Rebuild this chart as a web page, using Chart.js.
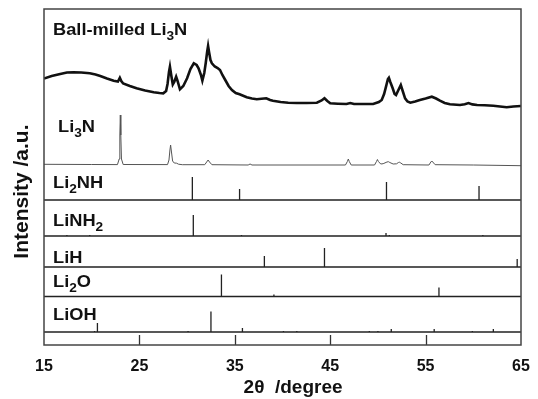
<!DOCTYPE html>
<html><head><meta charset="utf-8">
<script src="https://cdn.jsdelivr.net/npm/chart.js@4.4.1/dist/chart.umd.min.js"></script>
<style>html,body{margin:0;padding:0;background:#fff}#wrap{width:538px;height:399px;position:relative}</style>
</head><body><div id="wrap"><canvas id="c" width="538" height="399"></canvas></div>
<script>
// ---------- DATA ----------
const xTicks = [15, 25, 35, 45, 55, 65];

const ballTheta = [15.0,15.8,16.7,17.4,18.1,18.9,19.8,20.4,20.9,21.6,22.3,22.75,22.95,23.1,23.3,24.0,24.7,25.6,26.5,27.1,27.5,27.8,27.95,28.1,28.2,28.35,28.5,28.65,28.85,29.0,29.25,29.6,30.0,30.35,30.7,31.0,31.2,31.45,31.6,31.8,31.95,32.1,32.2,32.3,32.45,32.6,32.9,33.2,33.45,33.7,34.0,34.35,34.7,35.1,35.5,36.25,36.8,37.3,37.8,38.3,38.7,39.0,39.8,40.6,41.5,42.5,43.6,44.1,44.4,44.7,45.0,45.8,46.7,47.1,47.5,48.5,49.5,50.1,50.4,50.65,50.85,51.05,51.15,51.3,51.55,51.75,51.9,52.15,52.4,52.6,52.85,53.1,53.4,53.9,54.4,55.0,55.65,56.1,56.5,57.0,57.55,58.6,59.1,59.5,59.9,60.4,61.2,62.1,62.8,63.5,64.2,65.0];
const ballIntensity = [31.5,34,36,37.5,37.7,37.5,36.7,35.5,34,31.5,29.3,28.5,32.3,29,26.5,24,21.7,19.5,17.7,17,16.7,19,26,38,43.3,34,25.5,28,33.3,29,20.7,24,31.7,41,46.7,45,41.7,35,29.3,37,46.7,58,64,58,50,46.7,43.5,42,40,35,30,24,20,17,15.7,12.7,11.5,10.7,11.2,11.7,10,9.3,8,7.3,7,7,7.3,9.5,11.7,9,6.7,6.3,6,7,6,6,6,8,10,16,23.3,31,32.3,28,21.7,16,15,20,25,19,11.7,8.5,7.3,8.5,10,11.5,13.3,11.5,9.3,7,5.7,5,5.8,7,5.6,5,4.8,4.3,3.5,2.7,3.5,4];

const li3nTheta = [15,20,22.7,22.88,22.95,23.0,23.05,23.12,23.3,27.95,28.1,28.2,28.27,28.35,28.48,28.65,28.9,29.1,29.5,31.85,32.05,32.2,32.35,32.6,36.4,36.6,36.8,46.6,46.8,46.9,47.0,47.2,49.65,49.85,49.95,50.05,50.3,50.55,50.95,51.1,51.25,51.6,51.95,52.15,52.25,52.4,52.65,55.35,55.55,55.65,55.75,56.0,60,65];
const li3nIntensity = [0.7,0.5,0.4,6,30,50,30,6,0.5,0.4,5,15,20,14,4,2,1.8,0.8,0.3,0.3,3,5,3,0.3,0,1,0,0,3.5,6,3.5,0,0,3.5,5.5,3.5,1,1.3,3,3.3,2.5,1,1.2,2.5,2.8,2,0.3,0,3,4,3,0.3,0,-0.7];

const li2nhTheta = [30.55, 35.5, 50.9, 60.6];
const li2nhIntensity = [23, 11, 18, 14];
const linh2Theta = [17.4, 19.8, 30.65, 35.7, 50.85, 51.2, 61.0];
const linh2Intensity = [1, 1, 21, 1, 3, 1, 1];
const lihTheta = [38.1, 44.4, 64.6];
const lihIntensity = [11, 19, 8];
const li2oTheta = [33.6, 39.1, 56.4];
const li2oIntensity = [22, 2, 9];
const liohTheta = [20.3, 20.6, 30.1, 32.5, 35.8, 40.1, 41.5, 49.1, 50.0, 51.4, 55.9, 59.9, 62.1];
const liohIntensity = [1, 9, 1, 20.5, 4, 1, 1, 1, 1, 3, 3, 1, 3];

const panelLabels = ['Ball-milled Li_3N', 'Li_3N', 'Li_2NH', 'LiNH_2', 'LiH', 'Li_2O', 'LiOH'];

// ---------- LAYOUT (vertical stacking, in y-axis units) ----------
const Y_MAX = 336;
const panelOffset = [235, 180, 145, 109, 78, 48.5, 13];
const labelBaseline = [310, 213, 157, 119, 82, 58, 25];
const FONT = "'Liberation Sans', Arial, sans-serif";

function tracePoints(th, it, off) {
  return th.map((t, i) => ({ x: t, y: off + it[i] }));
}
function stickPoints(th, it, off) {
  const pts = [{ x: xTicks[0], y: off }];
  th.forEach((t, i) => { pts.push({ x: t, y: off }, { x: t, y: off + it[i] }, { x: t, y: off }); });
  pts.push({ x: xTicks[xTicks.length - 1], y: off });
  return pts;
}

const sticks = [
  [li2nhTheta, li2nhIntensity],
  [linh2Theta, linh2Intensity],
  [lihTheta, lihIntensity],
  [li2oTheta, li2oIntensity],
  [liohTheta, liohIntensity]
];

const datasets = [
  { data: tracePoints(ballTheta, ballIntensity, panelOffset[0]), borderColor: '#111', borderWidth: 2.6 },
  { data: tracePoints(li3nTheta, li3nIntensity, panelOffset[1]), borderColor: '#555', borderWidth: 1 }
];
sticks.forEach((s, k) => {
  datasets.push({ data: stickPoints(s[0], s[1], panelOffset[k + 2]), borderColor: '#222', borderWidth: 1.3 });
});
datasets.forEach(d => { d.showLine = true; d.pointRadius = 0; d.tension = 0; d.fill = false; });

function drawRich(ctx, text, x, y, size, sx) {
  const parts = text.split(/(_\d)/).filter(p => p.length);
  ctx.save();
  ctx.translate(x, y);
  ctx.scale(sx, 1);
  let cx = 0;
  parts.forEach(p => {
    if (p[0] === '_') {
      ctx.font = 'bold ' + Math.round(size * 0.72) + 'px ' + FONT;
      ctx.fillText(p.slice(1), cx, size * 0.3);
      cx += ctx.measureText(p.slice(1)).width;
    } else {
      ctx.font = 'bold ' + size + 'px ' + FONT;
      ctx.fillText(p, cx, 0);
      cx += ctx.measureText(p).width;
    }
  });
  ctx.restore();
}

const decor = {
  id: 'decor',
  afterDraw(chart) {
    const { ctx, chartArea: a, scales } = chart;
    const xs = scales.x, ys = scales.y;
    ctx.save();
    // inward ticks on bottom axis
    ctx.strokeStyle = '#333';
    ctx.lineWidth = 1.3;
    xs.ticks.forEach(t => {
      if (t.value <= xs.min || t.value >= xs.max) return;
      const px = Math.round(xs.getPixelForValue(t.value)) + 0.5;
      ctx.beginPath(); ctx.moveTo(px, a.bottom); ctx.lineTo(px, a.bottom - 10); ctx.stroke();
    });
    // frame
    ctx.strokeStyle = '#444';
    ctx.lineWidth = 1.5;
    ctx.strokeRect(a.left, a.top, a.right - a.left, a.bottom - a.top);
    // panel labels
    ctx.fillStyle = '#111';
    ctx.textBaseline = 'alphabetic';
    ctx.textAlign = 'left';
    panelLabels.forEach((lab, i) => {
      const x = a.left + (i === 1 ? 14 : 9);
      drawRich(ctx, lab, x, ys.getPixelForValue(labelBaseline[i]), 16, 1.14);
    });
    ctx.restore();
  }
};

new Chart(document.getElementById('c'), {
  type: 'scatter',
  data: { datasets },
  options: {
    responsive: false,
    animation: false,
    devicePixelRatio: 1,
    layout: { padding: { top: 9, right: 17, left: 0, bottom: 0 }, autoPadding: false },
    plugins: { legend: { display: false }, tooltip: { enabled: false } },
    scales: {
      x: {
        type: 'linear', min: xTicks[0], max: xTicks[xTicks.length - 1],
        afterBuildTicks: s => { s.ticks = xTicks.map(v => ({ value: v })); },
        grid: { display: false, drawTicks: false },
        border: { display: false },
        ticks: { color: '#111', font: { family: FONT, size: 16, weight: 'bold' }, padding: 12, maxRotation: 0 },
        title: { display: true, text: '    2θ  /degree', color: '#111', font: { family: FONT, size: 19, weight: 'bold' }, padding: { top: 0, bottom: 0 } },
        afterFit: s => { s.height = 54; s.paddingLeft = 0; s.paddingRight = 0; }
      },
      y: {
        type: 'linear', min: 0, max: Y_MAX,
        grid: { display: false, drawTicks: false },
        border: { display: false },
        ticks: { display: false },
        title: { display: true, text: 'Intensity /a.u.     ', color: '#111', font: { family: FONT, size: 21, weight: 'bold' }, padding: { top: 10, bottom: 0 } },
        afterFit: s => { s.width = 44; s.paddingTop = 0; s.paddingBottom = 0; }
      }
    }
  },
  plugins: [decor]
});
</script>
</body></html>
